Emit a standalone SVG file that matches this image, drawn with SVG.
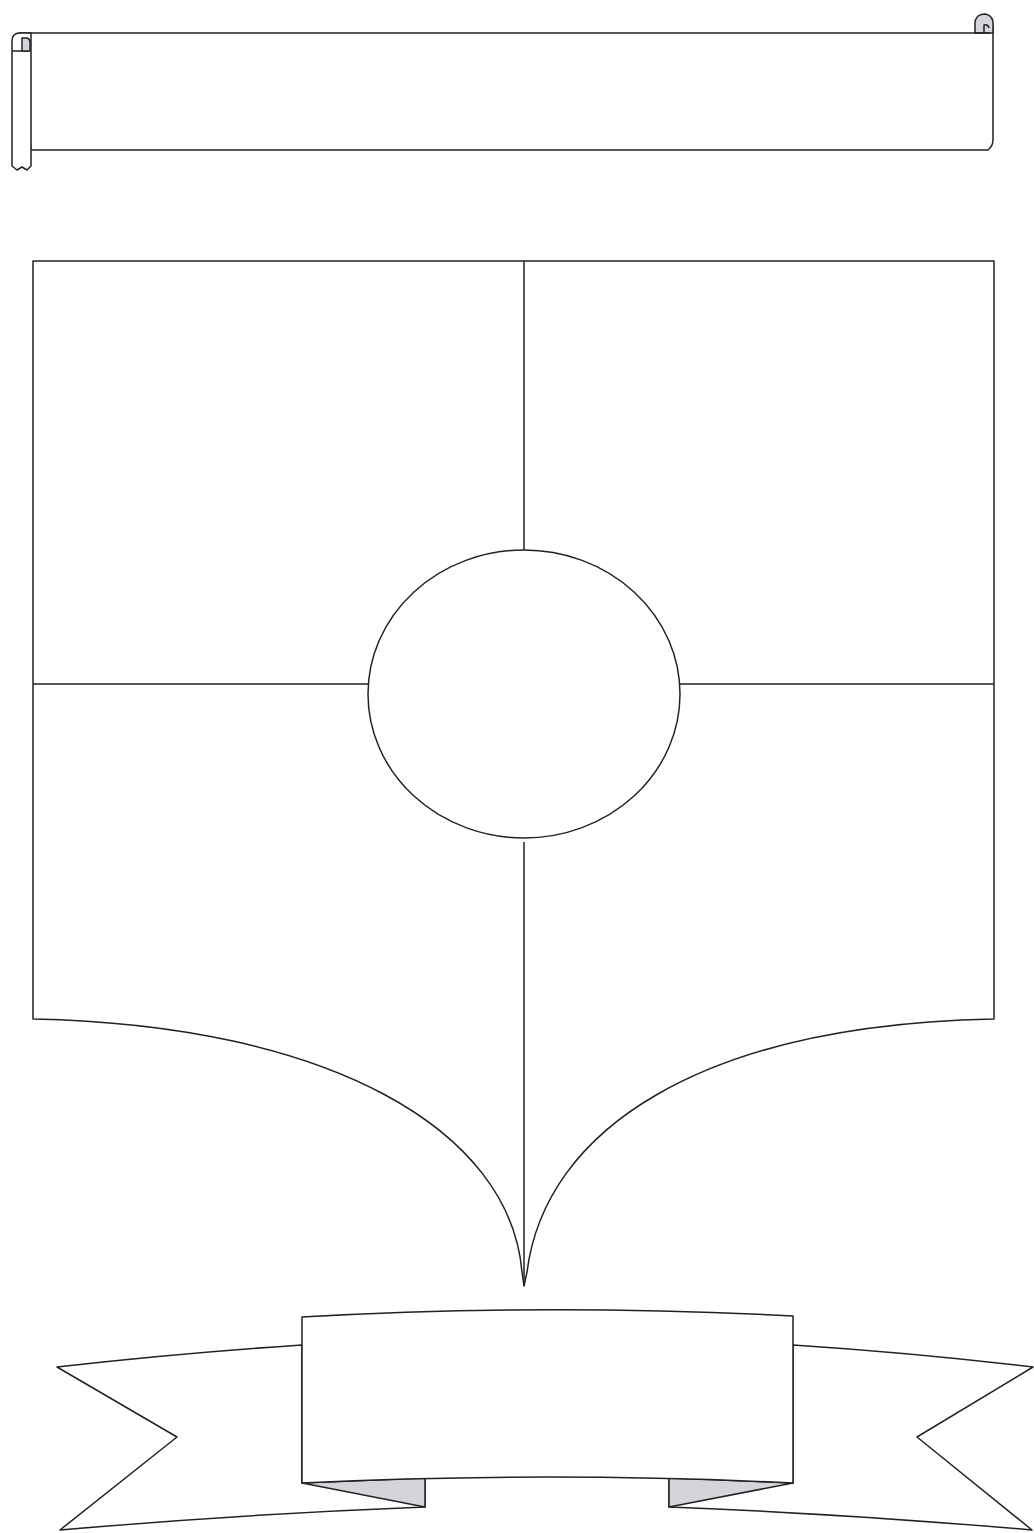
<svg xmlns="http://www.w3.org/2000/svg" width="1034" height="1533" viewBox="0 0 1034 1533">
<style>
.s{fill:none;stroke:#222;stroke-width:1.5;stroke-linejoin:round}
.w{fill:#fff;stroke:#222;stroke-width:1.5;stroke-linejoin:round}
.g{fill:#d3d5da;stroke:#222;stroke-width:1.5;stroke-linejoin:round}
</style>
<rect width="1034" height="1533" fill="#fff"/>
<g id="scroll">
<path class="w" d="M31,150 L988,150 Q993,146 993,140 L993,26 L975,33 L19,33 Z"/>
<path class="w" d="M12,166 L12,41 Q12,33 20,33 L31,33 L31,166 L27,170 L22,167 L17,170 Z"/>
<path class="s" d="M12,51 L29,51"/>
<path class="g" d="M22,51 L22,38 L27,38 Q30,39 30,42 L30,51 Z"/>
<path class="g" d="M975,33 L975,21 Q977,14 985,14 Q992,15 993,22 L993,33 Z"/>
<path class="s" d="M975,33 L990,33 M984,33 L984,25 Q988,24 989,28"/>
</g>
<g id="shield">
<path class="w" d="M33,261 L994,261 L994,1019 C700,1025 545,1130 527,1272 L524,1286 L522,1272 C510,1130 330,1025 33,1019 Z"/>
</g>
<g id="connectors">
<path class="s" d="M524,261 L524,550 M524,842 L524,1286 M33,684 L368,684 M680,684 L994,684"/>
</g>
<g id="circle">
<ellipse class="w" cx="524" cy="694" rx="156" ry="144"/>
</g>
<g id="banner">
<path class="w" d="M302,1345 Q180,1353 57,1367 L177,1437 L60,1530 Q245,1514 425,1507 L425,1478 L302,1483 Z"/>
<path class="w" d="M793,1345 Q915,1353 1033,1367 L917,1437 L1032,1530 Q850,1514 669,1507 L669,1478 L793,1483 Z"/>
<path class="g" d="M302,1483 L425,1507 L425,1478 Z"/>
<path class="g" d="M793,1483 L669,1507 L669,1478 Z"/>
<path class="w" d="M302,1317 Q548,1303 793,1316 L793,1483 Q548,1471 302,1483 Z"/>
</g>
</svg>
